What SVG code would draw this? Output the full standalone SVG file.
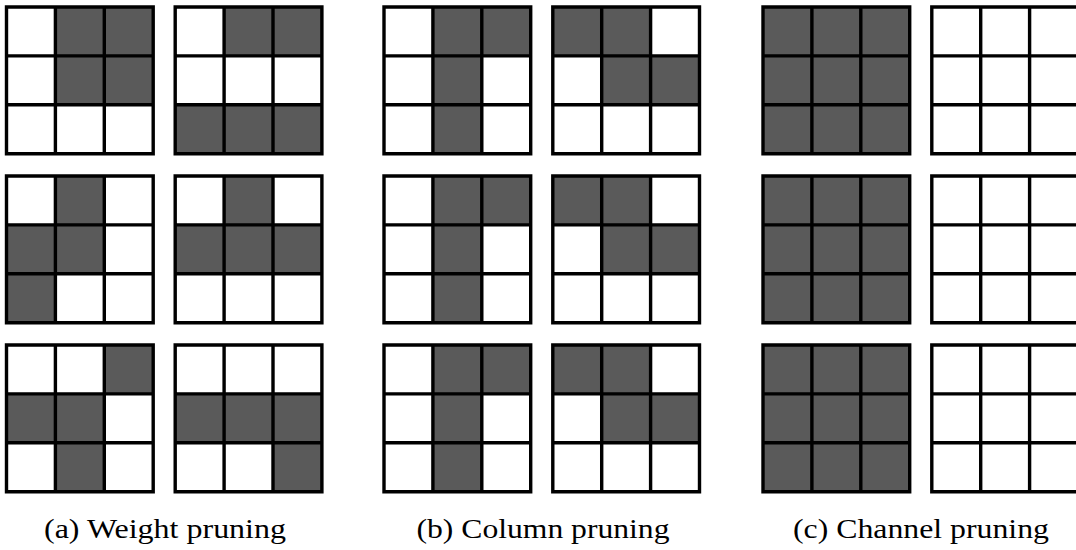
<svg xmlns="http://www.w3.org/2000/svg" xmlns:xlink="http://www.w3.org/1999/xlink" width="1076" height="550" viewBox="0 0 1076 550">
<style>
.d{fill:#5a5a5a}
.g{fill:none;stroke:#000;stroke-width:3.4;stroke-linecap:square}
.lbl{font-family:"Liberation Serif","Times New Roman",serif;font-size:28px;fill:#000;text-anchor:middle}
</style>
<defs>
<path id="gl" class="g" d="M0,0H146.7V146.7H0Z M48.9,0V146.7 M97.8,0V146.7 M0,48.9H146.7 M0,97.8H146.7"/>
<rect id="c" width="48.9" height="48.9" class="d"/>
</defs>
<rect width="1076" height="550" fill="#fff"/>

<!-- (a) Weight pruning -->
<g id="a-r1-l" transform="translate(6.5,7)">
<use href="#c" x="48.9" y="0"/><use href="#c" x="97.8" y="0"/>
<use href="#c" x="48.9" y="48.9"/><use href="#c" x="97.8" y="48.9"/>
<use href="#gl"/>
</g>
<g id="a-r1-r" transform="translate(175.2,7)">
<use href="#c" x="48.9" y="0"/><use href="#c" x="97.8" y="0"/>
<use href="#c" x="0" y="97.8"/><use href="#c" x="48.9" y="97.8"/><use href="#c" x="97.8" y="97.8"/>
<use href="#gl"/>
</g>
<g id="a-r2-l" transform="translate(6.5,176)">
<use href="#c" x="48.9" y="0"/>
<use href="#c" x="0" y="48.9"/><use href="#c" x="48.9" y="48.9"/>
<use href="#c" x="0" y="97.8"/>
<use href="#gl"/>
</g>
<g id="a-r2-r" transform="translate(175.2,176)">
<use href="#c" x="48.9" y="0"/>
<use href="#c" x="0" y="48.9"/><use href="#c" x="48.9" y="48.9"/><use href="#c" x="97.8" y="48.9"/>
<use href="#gl"/>
</g>
<g id="a-r3-l" transform="translate(6.5,345)">
<use href="#c" x="97.8" y="0"/>
<use href="#c" x="0" y="48.9"/><use href="#c" x="48.9" y="48.9"/>
<use href="#c" x="48.9" y="97.8"/>
<use href="#gl"/>
</g>
<g id="a-r3-r" transform="translate(175.2,345)">
<use href="#c" x="0" y="48.9"/><use href="#c" x="48.9" y="48.9"/><use href="#c" x="97.8" y="48.9"/>
<use href="#c" x="97.8" y="97.8"/>
<use href="#gl"/>
</g>

<!-- (b) Column pruning -->
<g id="b-r1-l" transform="translate(384,7)">
<use href="#c" x="48.9" y="0"/><use href="#c" x="97.8" y="0"/>
<use href="#c" x="48.9" y="48.9"/><use href="#c" x="48.9" y="97.8"/>
<use href="#gl"/>
</g>
<g id="b-r1-r" transform="translate(552.8,7)">
<use href="#c" x="0" y="0"/><use href="#c" x="48.9" y="0"/>
<use href="#c" x="48.9" y="48.9"/><use href="#c" x="97.8" y="48.9"/>
<use href="#gl"/>
</g>
<g id="b-r2-l" transform="translate(384,176)">
<use href="#c" x="48.9" y="0"/><use href="#c" x="97.8" y="0"/>
<use href="#c" x="48.9" y="48.9"/><use href="#c" x="48.9" y="97.8"/>
<use href="#gl"/>
</g>
<g id="b-r2-r" transform="translate(552.8,176)">
<use href="#c" x="0" y="0"/><use href="#c" x="48.9" y="0"/>
<use href="#c" x="48.9" y="48.9"/><use href="#c" x="97.8" y="48.9"/>
<use href="#gl"/>
</g>
<g id="b-r3-l" transform="translate(384,345)">
<use href="#c" x="48.9" y="0"/><use href="#c" x="97.8" y="0"/>
<use href="#c" x="48.9" y="48.9"/><use href="#c" x="48.9" y="97.8"/>
<use href="#gl"/>
</g>
<g id="b-r3-r" transform="translate(552.8,345)">
<use href="#c" x="0" y="0"/><use href="#c" x="48.9" y="0"/>
<use href="#c" x="48.9" y="48.9"/><use href="#c" x="97.8" y="48.9"/>
<use href="#gl"/>
</g>

<!-- (c) Channel pruning -->
<g id="c-r1-l" transform="translate(763,7)">
<rect width="146.7" height="146.7" class="d"/>
<use href="#gl"/>
</g>
<g id="c-r1-r" transform="translate(931.8,7)">
<use href="#gl"/>
</g>
<g id="c-r2-l" transform="translate(763,176)">
<rect width="146.7" height="146.7" class="d"/>
<use href="#gl"/>
</g>
<g id="c-r2-r" transform="translate(931.8,176)">
<use href="#gl"/>
</g>
<g id="c-r3-l" transform="translate(763,345)">
<rect width="146.7" height="146.7" class="d"/>
<use href="#gl"/>
</g>
<g id="c-r3-r" transform="translate(931.8,345)">
<use href="#gl"/>
</g>

<g id="connectors"></g>

<g id="labels">
<text class="lbl" x="165" y="538" textLength="242" lengthAdjust="spacingAndGlyphs">(a) Weight pruning</text>
<text class="lbl" x="543" y="538" textLength="253" lengthAdjust="spacingAndGlyphs">(b) Column pruning</text>
<text class="lbl" x="921" y="538" textLength="256" lengthAdjust="spacingAndGlyphs">(c) Channel pruning</text>
</g>
</svg>
